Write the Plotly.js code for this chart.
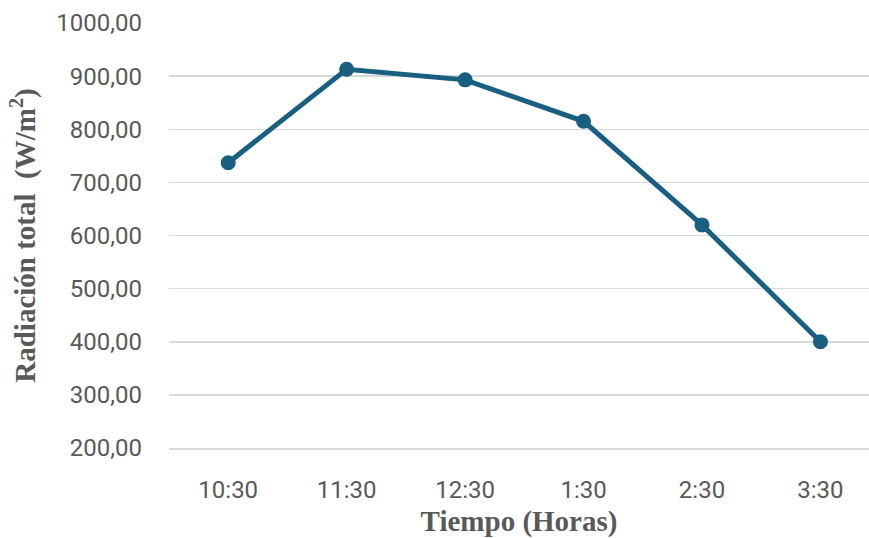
<!DOCTYPE html>
<html>
<head>
<meta charset="utf-8">
<script src="https://cdn.plot.ly/plotly-3.0.1.min.js"></script>
<style>html,body{margin:0;padding:0;background:#fff;}</style>
</head>
<body>
<div id="chart" style="width:869px;height:538px;"></div>
<script>
const categories = ["10:30", "11:30", "12:30", "1:30", "2:30", "3:30"];
const radiacion = [737, 913, 893, 815, 620, 400];
const yTickValues = [200, 300, 400, 500, 600, 700, 800, 900, 1000];
const yTickLabels = ["200,00", "300,00", "400,00", "500,00", "600,00", "700,00", "800,00", "900,00", "1000,00"];

const trace = {
  x: categories,
  y: radiacion,
  type: "scatter",
  mode: "lines+markers",
  line: {color: "#195f81", width: 5},
  marker: {color: "#195f81", size: 15},
  hoverinfo: "x+y"
};

const layout = {
  width: 869,
  height: 538,
  margin: {l: 169, r: 0, t: 23, b: 90},
  paper_bgcolor: "#ffffff",
  plot_bgcolor: "#ffffff",
  showlegend: false,
  xaxis: {
    type: "category",
    range: [-0.5, 5.41],
    showgrid: false,
    zeroline: false,
    showline: true,
    linecolor: "#d9d9d9",
    linewidth: 1.5,
    ticks: "",
    ticklabelstandoff: 20,
    tickfont: {family: "Roboto, sans-serif", size: 24, color: "#595959"},
    title: {
      text: "Tiempo (Horas)",
      font: {family: "Liberation Serif, Times New Roman, serif", size: 29, color: "#595959", weight: "bold"},
      standoff: 8
    },
    automargin: false
  },
  yaxis: {
    range: [200, 1000],
    tickvals: yTickValues,
    ticktext: yTickLabels,
    showgrid: true,
    gridcolor: "#d9d9d9",
    gridwidth: 1.5,
    zeroline: false,
    showline: false,
    ticks: "",
    ticklabelstandoff: 26,
    tickfont: {family: "Roboto, sans-serif", size: 24, color: "#595959"},
    title: {
      text: "Radiación total  (W/m<sup>2</sup>)",
      font: {family: "Liberation Serif, Times New Roman, serif", size: 29, color: "#595959", weight: "bold"},
      standoff: 12
    },
    automargin: false
  }
};

Plotly.newPlot("chart", [trace], layout, {displayModeBar: false, staticPlot: true});
</script>
</body>
</html>
